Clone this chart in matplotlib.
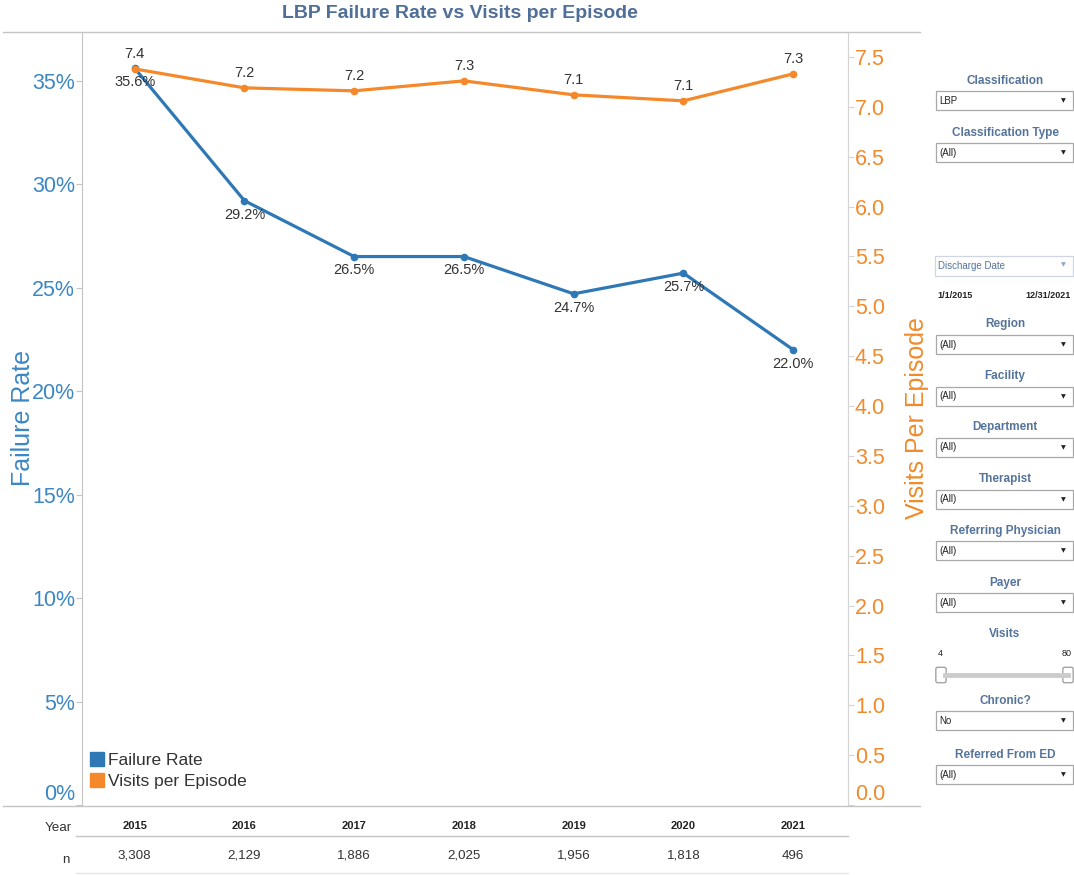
import matplotlib.pyplot as plt
from matplotlib.lines import Line2D
from matplotlib.patches import Rectangle, FancyBboxPatch
from matplotlib.ticker import FuncFormatter

plt.rcParams["font.family"] = ["Liberation Sans", "DejaVu Sans"]

years = ["2015", "2016", "2017", "2018", "2019", "2020", "2021"]
failure_rate = [35.6, 29.2, 26.5, 26.5, 24.7, 25.7, 22.0]
visits_per_episode = [7.38, 7.19, 7.16, 7.26, 7.12, 7.06, 7.33]
n_episodes = [3308, 2129, 1886, 2025, 1956, 1818, 496]

filters = [
    ("Classification", "LBP", 81, 91),
    ("Classification Type", "(All)", 133, 143),
    ("Region", "(All)", 324, 335),
    ("Facility", "(All)", 376, 387),
    ("Department", "(All)", 427, 438),
    ("Therapist", "(All)", 479, 490),
    ("Referring Physician", "(All)", 531, 541),
    ("Payer", "(All)", 583, 593),
    ("Chronic?", "No", 701, 711),
    ("Referred From ED", "(All)", 755, 765),
]
visits_range = (4, 80)
date_range = ("1/1/2015", "12/31/2021")

BLUE = "#2e78b5"
BLUE_TXT = "#3b87c4"
ORANGE = "#f5882a"
ORANGE_TXT = "#f08a2c"
STEEL = "#55749c"
GRID = "#c4c4c4"

W, H = 1074, 875


def fx(x):
    return x / W


def fy(y):
    return 1 - y / H


fig = plt.figure(figsize=(W / 100, H / 100), dpi=100)
ax = fig.add_axes([fx(82), fy(805), fx(848) - fx(82), fy(32) - fy(805)])
ax2 = ax.twinx()

x = list(range(len(years)))
ax.plot(x, failure_rate, color=BLUE, lw=2.3, marker="o", ms=4.5, zorder=3)
ax2.plot(x, visits_per_episode, color=ORANGE, lw=2.3, marker="o", ms=4.5, zorder=3)

for xi, v in zip(x, failure_rate):
    ax.annotate(f"{v:.1f}%", (xi, v), xytext=(0, -10), textcoords="offset points",
                ha="center", va="center", fontsize=10.5, color="#333333")
for xi, v in zip(x, visits_per_episode):
    ax2.annotate(f"{v:.1f}", (xi, v), xytext=(0, 11), textcoords="offset points",
                 ha="center", va="center", fontsize=10.5, color="#333333")

ax.set_xlim(-0.48, 6.5)
ax.set_ylim(0, 37.35)
ax2.set_ylim(0, 7.75)
ax.set_xticks([])

ax.set_yticks(range(0, 36, 5))
ax.yaxis.set_major_formatter(FuncFormatter(lambda v, p: f"{v:.0f}%"))
ax2.set_yticks([i * 0.5 for i in range(16)])
ax2.yaxis.set_major_formatter(FuncFormatter(lambda v, p: f"{v:.1f}"))

ax.tick_params(axis="y", labelsize=15.5, labelcolor=BLUE_TXT, color=GRID, length=4, width=0.8, pad=1)
ax2.tick_params(axis="y", labelsize=15.5, labelcolor=ORANGE_TXT, color="#d4d4d4", length=4, width=0.8, pad=1)

# zero labels sit just above the baseline
for a in (ax, ax2):
    fig.canvas.draw()
    a.get_yticklabels()[0].set_va("bottom")

ax.set_ylabel("Failure Rate", fontsize=18, color=BLUE_TXT, labelpad=-2)
ax2.set_ylabel("Visits Per Episode", fontsize=18, color=ORANGE_TXT, labelpad=14)

for a in (ax, ax2):
    for s in ("top", "bottom"):
        a.spines[s].set_visible(False)
ax.spines["right"].set_visible(False)
ax2.spines["left"].set_visible(False)
ax.spines["left"].set_color(GRID)
ax2.spines["right"].set_color("#d4d4d4")

handles = [
    Line2D([], [], marker="s", ls="none", color=BLUE, ms=9.5),
    Line2D([], [], marker="s", ls="none", color=ORANGE, ms=9.5),
]
ax2.legend(handles, ["Failure Rate", "Visits per Episode"], loc="lower left",
           bbox_to_anchor=(-0.006, 0.005), frameon=False, fontsize=12.5,
           handletextpad=0.25, labelspacing=0.35, borderpad=0.2, handlelength=0.8,
           labelcolor="#333333")

fig.text(fx(460), fy(14), "LBP Failure Rate vs Visits per Episode", ha="center",
         va="center", fontsize=14, fontweight="bold", color="#4f6f98")

# frame lines around the chart and the year table
fig.add_artist(Line2D([fx(3), fx(920)], [fy(32), fy(32)], color=GRID, lw=1))
fig.add_artist(Line2D([fx(3), fx(920)], [fy(806), fy(806)], color=GRID, lw=1))
fig.add_artist(Line2D([fx(76), fx(848)], [fy(836), fy(836)], color=GRID, lw=1))
fig.add_artist(Line2D([fx(76), fx(848)], [fy(873), fy(873)], color="#e6e6e6", lw=1))

fig.text(fx(72), fy(828), "Year", ha="right", va="center", fontsize=9.6, color="#333333")
fig.text(fx(70), fy(860), "n", ha="right", va="center", fontsize=9.6, color="#333333")
row_tr = ax.get_xaxis_transform()
for xi, yr, n in zip(x, years, n_episodes):
    ax.text(xi, (805 - 826) / 773, yr, transform=row_tr, ha="center", va="center",
            fontsize=8, fontweight="bold", color="#222222", clip_on=False)
    ax.text(xi, (805 - 856) / 773, f"{n:,}", transform=row_tr, ha="center", va="center",
            fontsize=9.6, color="#333333", clip_on=False)


# filter panel
def dropdown(top, value, left=936, right=1073, h=19):
    fig.add_artist(Rectangle((fx(left), fy(top + h)), fx(right) - fx(left), fy(top) - fy(top + h),
                             transform=fig.transFigure, facecolor="white",
                             edgecolor="#a8a8a8", lw=0.9))
    fig.text(fx(left + 3), fy(top + h / 2), value, ha="left", va="center", fontsize=7, color="#222222")
    fig.text(fx(right - 10), fy(top + h / 2), "\u25bc", ha="center", va="center", fontsize=4.5, color="#222222",
             family="DejaVu Sans")


for label, value, ly, by in filters:
    fig.text(fx(1005), fy(ly), label, ha="center", va="center", fontsize=8.5,
             fontweight="bold", color=STEEL)
    dropdown(by, value)

# discharge date control
fig.add_artist(Rectangle((fx(935), fy(276)), fx(1073) - fx(935), fy(256) - fy(276),
                         transform=fig.transFigure, facecolor="white", edgecolor="#cfd6e0", lw=0.9))
fig.text(fx(938), fy(266), "Discharge Date", ha="left", va="center", fontsize=7, color=STEEL)
fig.text(fx(1063), fy(265), "\u25bc", ha="center", va="center", fontsize=4.5, color="#8ea7c4",
         family="DejaVu Sans")
fig.text(fx(937), fy(295), date_range[0], ha="left", va="center", fontsize=6.5, fontweight="bold", color="#222222")
fig.text(fx(1071), fy(295), date_range[1], ha="right", va="center", fontsize=6.5, fontweight="bold", color="#222222")

# visits slider
fig.text(fx(1005), fy(634), "Visits", ha="center", va="center", fontsize=8.5, fontweight="bold", color=STEEL)
fig.text(fx(940), fy(654), str(visits_range[0]), ha="center", va="center", fontsize=6.5, color="#222222")
fig.text(fx(1067), fy(654), str(visits_range[1]), ha="center", va="center", fontsize=6.5, color="#222222")
fig.add_artist(Line2D([fx(945), fx(1068)], [fy(675), fy(675)], color="#cccccc", lw=3.5))
for hx in (941, 1068):
    fig.add_artist(FancyBboxPatch((fx(hx - 3), fy(681)), fx(6), fy(669) - fy(681),
                                  boxstyle="round,pad=0.002", transform=fig.transFigure,
                                  facecolor="white", edgecolor="#9a9a9a", lw=0.9))

fig.savefig("out.png", dpi=100, facecolor="white")
